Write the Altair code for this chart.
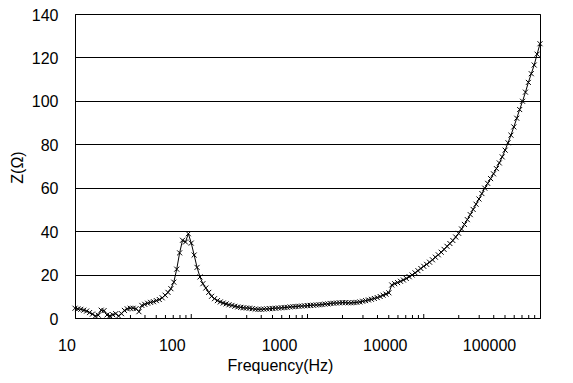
import altair as alt
import pandas as pd

# Frequency sweep (Hz)
freq = [
    10, 10.59, 11.22, 11.89, 12.59, 13.34, 14.13, 14.96, 15.85, 16.79,
    17.78, 18.84, 19.95, 21.13, 22.39, 23.71, 25.12, 26.61, 28.18, 29.85,
    31.62, 33.50, 35.48, 37.58, 39.81, 42.17, 44.67, 47.32, 50.12, 53.09,
    56.23, 59.57, 63.10, 66.83, 70.79, 74.99, 79.43, 84.14, 89.13, 94.41,
    100, 105.9, 112.2, 118.9, 125.9, 133.4, 141.3, 149.6, 158.5, 167.9,
    177.8, 188.4, 199.5, 211.3, 223.9, 237.1, 251.2, 266.1, 281.8, 298.5,
    316.2, 335.0, 354.8, 375.8, 398.1, 421.7, 446.7, 473.2, 501.2, 530.9,
    562.3, 595.7, 631.0, 668.3, 707.9, 749.9, 794.3, 841.4, 891.3, 944.1,
    1000, 1059, 1122, 1189, 1259, 1334, 1413, 1496, 1585, 1679,
    1778, 1884, 1995, 2113, 2239, 2371, 2512, 2661, 2818, 2985,
    3162, 3350, 3548, 3758, 3981, 4217, 4467, 4732, 5012, 5309,
    5623, 5957, 6310, 6683, 7079, 7499, 7943, 8414, 8913, 9441,
    10000, 10593, 11220, 11885, 12589, 13335, 14125, 14962, 15849, 16788,
    17783, 18836, 19953, 21135, 22387, 23714, 25119, 26607, 28184, 29854,
    31623, 33497, 35481, 37584, 39811, 42170, 44668, 47315, 50119, 53088,
    56234, 59566, 63096, 66834, 70795, 74989, 79433, 84140, 89125, 94406,
    100000,
]

# Impedance Z (ohm)
z = [
    4.5, 4.2, 4.0, 3.6, 3.2, 2.5, 1.8, 0.9, 1.3, 3.6,
    3.4, 1.4, 1.0, 1.5, 2.0, 0.9, 2.0, 3.5, 4.2, 4.5,
    4.5, 4.3, 2.9, 5.8, 6.3, 6.8, 7.2, 7.5, 8.0, 8.5,
    9.3, 10.5, 11.8, 13.5, 16.5, 22.5, 30.0, 35.8, 35.0, 38.8,
    34.5, 29.0, 23.3, 18.9, 15.8, 13.8, 11.8, 10.0, 8.9, 8.0,
    7.4, 6.9, 6.5, 6.1, 5.8, 5.4, 5.1, 4.9, 4.7, 4.6,
    4.5, 4.3, 4.1, 4.0, 4.0, 4.1, 4.2, 4.3, 4.4, 4.5,
    4.6, 4.7, 4.8, 4.9, 5.1, 5.2, 5.3, 5.4, 5.5, 5.6,
    5.7, 5.8, 5.9, 6.0, 6.1, 6.2, 6.4, 6.5, 6.7, 6.8,
    6.9, 7.0, 7.1, 7.1, 7.0, 7.0, 7.1, 7.2, 7.4, 7.7,
    8.0, 8.3, 8.6, 9.0, 9.4, 9.9, 10.5, 11.0, 11.6, 15.2,
    15.8, 16.3, 16.9, 17.5, 18.2, 19.0, 19.8, 20.8, 21.8, 22.8,
    23.8, 24.7, 25.7, 26.8, 28.0, 29.1, 30.3, 31.6, 33.0, 34.3,
    35.7, 37.3, 39.0, 41.0, 43.1, 45.3, 47.6, 50.0, 52.4, 54.8,
    57.3, 59.8, 62.0, 64.2, 66.4, 68.8, 71.4, 74.2, 77.3, 80.7,
    84.2, 88.0, 92.0, 96.0, 99.8, 104.0, 108.5, 112.5, 116.5, 121.5,
    126.3,
]

x_ticks = [10, 100, 1000, 10000, 100000]
x_label_shift = [-8.5, -19.5, -28.5, -39, -51]
y_ticks = [0, 20, 40, 60, 80, 100, 120, 140]
major_inner = [100, 1000, 10000]
minor_inner = [m * d for d in [10, 100, 1000, 10000] for m in range(2, 10)]

df = pd.DataFrame({"f": freq, "z": z})
FONT = "Liberation Sans"

xscale = alt.Scale(type="log", domain=[10, 100000], nice=False)
yscale = alt.Scale(domain=[0, 140], nice=False)

label_offset = {
    "condition": [
        {"test": f"datum.value == {v}", "value": s}
        for v, s in zip(x_ticks, x_label_shift)
    ],
    "value": 0,
}

xaxis = alt.Axis(
    values=x_ticks,
    format="d",
    grid=False,
    ticks=False,
    domainColor="black",
    labelFont=FONT,
    labelFontSize=16,
    labelColor="black",
    labelPadding=19,
    labelFlush=False,
    labelOffset=label_offset,
    title="Frequency(Hz)",
    titleFont=FONT,
    titleFontSize=16,
    titleFontWeight="normal",
    titleColor="black",
    titleX=205,
    titleY=47,
    titleAlign="center",
    titleBaseline="middle",
)

yaxis = alt.Axis(
    values=y_ticks,
    grid=True,
    gridColor="black",
    gridOpacity=1,
    gridWidth=1,
    ticks=False,
    domainColor="black",
    labelFont=FONT,
    labelFontSize=16,
    labelColor="black",
    labelPadding=17,
    labelOffset=1,
    title="Z(Ω)",
    titleFont=FONT,
    titleFontSize=16,
    titleFontWeight="normal",
    titleColor="black",
    titleX=-58,
    titleY=153,
    titleAlign="center",
    titleBaseline="middle",
)

base = alt.Chart(df)

line = base.mark_line(color="black", strokeWidth=1).encode(
    x=alt.X("f:Q", scale=xscale, axis=xaxis),
    y=alt.Y("z:Q", scale=yscale, axis=yaxis),
)

pts = base.mark_point(
    shape="M-1,-1L1,1M-1,1L1,-1",
    filled=False,
    stroke="black",
    strokeWidth=1,
    size=25,
    opacity=1,
).encode(
    x=alt.X("f:Q", scale=xscale, axis=xaxis),
    y=alt.Y("z:Q", scale=yscale, axis=yaxis),
)

major_df = pd.DataFrame({"f": major_inner})
minor_df = pd.DataFrame({"f": minor_inner})

major_rules = alt.Chart(major_df).mark_rule(color="black", strokeWidth=1).encode(
    x=alt.X("f:Q", scale=xscale, axis=xaxis),
    y=alt.value(300),
    y2=alt.value(304),
)
minor_rules = alt.Chart(minor_df).mark_rule(color="black", strokeWidth=1).encode(
    x=alt.X("f:Q", scale=xscale, axis=xaxis),
    y=alt.value(301),
    y2=alt.value(304),
)

chart = (
    alt.layer(line, minor_rules, major_rules, pts)
    .properties(
        width=465,
        height=304,
        autosize="none",
        padding={"left": 67, "top": 6, "right": 25, "bottom": 57},
        background="white",
    )
    .configure_view(stroke="black", strokeWidth=1)
)

chart.save("out.html", embed_options={"renderer": "svg", "actions": False})
